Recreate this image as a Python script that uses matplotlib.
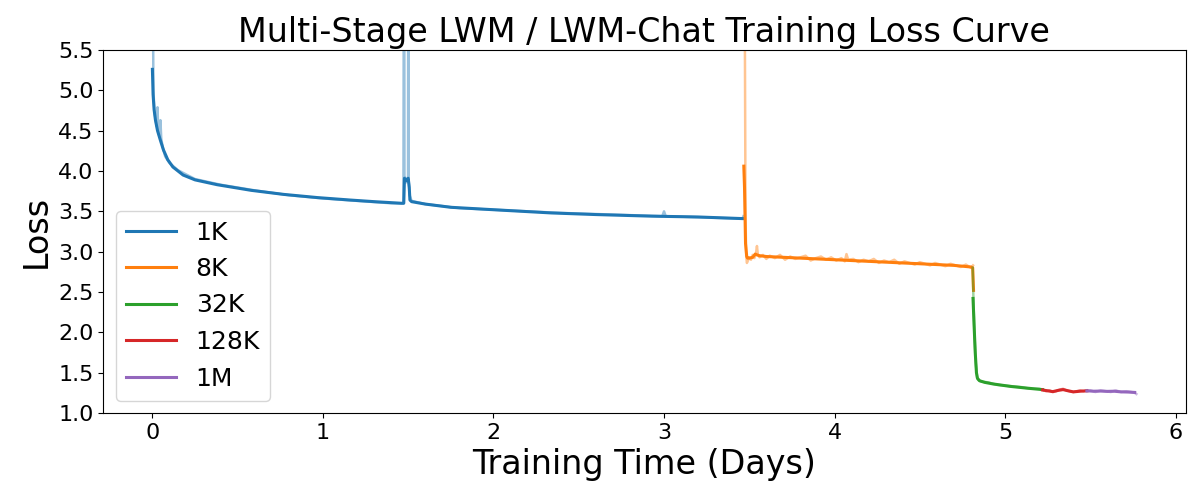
import matplotlib
matplotlib.use("Agg")
import matplotlib.pyplot as plt

# stage names (context length)
stages = ["1K", "8K", "32K", "128K", "1M"]

# 1K stage, smoothed + raw
blue_days = [0.0, 0.004, 0.01, 0.018, 0.03, 0.047, 0.065, 0.09, 0.12, 0.18, 0.25, 0.38,
             0.58, 0.77, 0.97, 1.16, 1.3, 1.46, 1.474, 1.478, 1.49, 1.50, 1.506, 1.51,
             1.52, 1.6, 1.75, 2.0, 2.34, 2.6, 2.93, 3.2, 3.46, 3.468]
blue_loss = [5.26, 4.95, 4.76, 4.63, 4.50, 4.38, 4.26, 4.14, 4.05, 3.95, 3.89, 3.83,
             3.76, 3.71, 3.67, 3.64, 3.62, 3.60, 3.60, 3.91, 3.88, 3.91, 3.80, 3.64,
             3.62, 3.59, 3.55, 3.52, 3.48, 3.46, 3.44, 3.43, 3.41, 3.41]
blue_raw_days = [0.0, 0.002, 0.006, 0.012, 0.02, 0.026, 0.03, 0.034, 0.042, 0.047, 0.052,
                 0.06, 0.075, 0.1, 0.15, 0.25, 0.4, 0.6, 0.8, 1.0, 1.2, 1.4, 1.472, 1.476,
                 1.478, 1.482, 1.49, 1.499, 1.501, 1.503, 1.508, 1.52, 1.6, 1.8, 2.1, 2.4,
                 2.7, 2.99, 3.0, 3.01, 3.3, 3.46, 3.466]
blue_raw_loss = [11.0, 6.5, 5.0, 4.74, 4.62, 4.55, 4.79, 4.50, 4.42, 4.63, 4.40,
                 4.30, 4.18, 4.10, 4.01, 3.90, 3.83, 3.76, 3.70, 3.66, 3.63, 3.60, 3.60, 9.0,
                 3.85, 3.92, 3.86, 3.90, 9.0, 3.88, 3.70, 3.63, 3.59, 3.54, 3.51, 3.48,
                 3.46, 3.44, 3.50, 3.44, 3.42, 3.41, 3.44]

# 8K stage
orange_days = [3.468, 3.472, 3.478, 3.485, 3.49, 3.50, 3.52, 3.535, 3.545, 3.56, 3.6, 3.7,
               3.8, 3.9, 4.0, 4.1, 4.2, 4.3, 4.4, 4.5, 4.6, 4.7, 4.8, 4.81, 4.815]
orange_loss = [4.06, 3.80, 3.10, 2.94, 2.92, 2.92, 2.93, 2.97, 2.96, 2.95, 2.94, 2.93,
               2.92, 2.91, 2.90, 2.89, 2.88, 2.87, 2.86, 2.85, 2.84, 2.83, 2.81, 2.80, 2.52]
orange_raw_days = [3.468, 3.470, 3.474, 3.478, 3.482, 3.486, 3.49, 3.50, 3.51, 3.52,
                   3.53, 3.54, 3.545, 3.55, 3.56, 3.58, 3.60, 3.62, 3.65, 3.68,
                   3.71, 3.74, 3.77, 3.80, 3.83, 3.86, 3.89, 3.92, 3.95, 3.98,
                   4.01, 4.04, 4.06, 4.07, 4.08, 4.11, 4.14, 4.17, 4.20, 4.23,
                   4.26, 4.29, 4.32, 4.35, 4.38, 4.41, 4.44, 4.47, 4.50, 4.53,
                   4.56, 4.59, 4.62, 4.65, 4.68, 4.71, 4.74, 4.77, 4.80, 4.812]
orange_raw_loss = [7.5, 9.0, 5.8, 3.4, 2.95, 2.86, 2.88, 2.93, 2.90, 2.96,
                   2.92, 2.99, 3.07, 2.97, 2.93, 2.96, 2.91, 2.95, 2.92, 2.96,
                   2.90, 2.94, 2.91, 2.93, 2.95, 2.89, 2.92, 2.94, 2.90, 2.93,
                   2.89, 2.92, 2.88, 2.97, 2.90, 2.91, 2.87, 2.90, 2.88, 2.91,
                   2.86, 2.89, 2.87, 2.90, 2.85, 2.88, 2.86, 2.84, 2.87, 2.85,
                   2.83, 2.86, 2.84, 2.82, 2.85, 2.83, 2.81, 2.84, 2.80, 2.83]

# 32K stage
green_days = [4.812, 4.818, 4.825, 4.832, 4.838, 4.85, 4.88, 4.93, 5.03, 5.12, 5.22]
green_loss = [2.42, 2.10, 1.75, 1.50, 1.43, 1.40, 1.38, 1.36, 1.33, 1.31, 1.29]
green_raw_days = [4.81, 4.814, 4.82, 4.828, 4.836, 4.842, 4.86, 4.9, 4.95, 5.0, 5.05,
                  5.1, 5.15, 5.2, 5.22]
green_raw_loss = [2.80, 2.45, 2.00, 1.62, 1.44, 1.41, 1.39, 1.38, 1.35, 1.34, 1.33,
                  1.32, 1.30, 1.30, 1.29]

# 128K stage
red_days = [5.22, 5.25, 5.28, 5.31, 5.34, 5.37, 5.40, 5.44, 5.48]
red_loss = [1.285, 1.275, 1.265, 1.28, 1.29, 1.275, 1.262, 1.27, 1.275]
red_raw_days = [5.22, 5.24, 5.26, 5.28, 5.30, 5.32, 5.34, 5.36, 5.38, 5.40, 5.42, 5.44,
                5.46, 5.48]
red_raw_loss = [1.29, 1.27, 1.28, 1.26, 1.27, 1.29, 1.30, 1.28, 1.27, 1.26, 1.27, 1.28,
                1.27, 1.28]

# 1M stage
purple_days = [5.48, 5.52, 5.56, 5.60, 5.64, 5.68, 5.72, 5.76]
purple_loss = [1.275, 1.27, 1.272, 1.268, 1.27, 1.262, 1.26, 1.255]
purple_raw_days = [5.48, 5.50, 5.53, 5.56, 5.59, 5.62, 5.65, 5.68, 5.71, 5.74, 5.76, 5.77]
purple_raw_loss = [1.27, 1.28, 1.26, 1.28, 1.27, 1.26, 1.28, 1.26, 1.27, 1.26, 1.25, 1.235]

y_ticks = [1.0, 1.5, 2.0, 2.5, 3.0, 3.5, 4.0, 4.5, 5.0, 5.5]

series = [
    (blue_days, blue_loss, blue_raw_days, blue_raw_loss),
    (orange_days, orange_loss, orange_raw_days, orange_raw_loss),
    (green_days, green_loss, green_raw_days, green_raw_loss),
    (red_days, red_loss, red_raw_days, red_raw_loss),
    (purple_days, purple_loss, purple_raw_days, purple_raw_loss),
]


def main():
    fig, ax = plt.subplots(figsize=(12, 5), dpi=100)
    for i, (name, (d, l, rd, rl)) in enumerate(zip(stages, series)):
        color = f"C{i}"
        # raw loss, faint
        ax.plot(rd, rl, color=color, alpha=0.45, lw=1.8)
        # smoothed loss
        ax.plot(d, l, color=color, lw=2.2, label=name)

    ax.set_ylim(1.0, 5.5)
    ax.set_yticks(y_ticks)
    ax.tick_params(labelsize=16)
    ax.set_title("Multi-Stage LWM / LWM-Chat Training Loss Curve", fontsize=24)
    ax.set_xlabel("Training Time (Days)", fontsize=24)
    ax.set_ylabel("Loss", fontsize=24)
    ax.legend(loc="lower left", fontsize=18)

    fig.subplots_adjust(left=0.086, right=0.988, top=0.9, bottom=0.174)
    fig.savefig("out.png")
    plt.close(fig)


if __name__ == "__main__":
    main()
